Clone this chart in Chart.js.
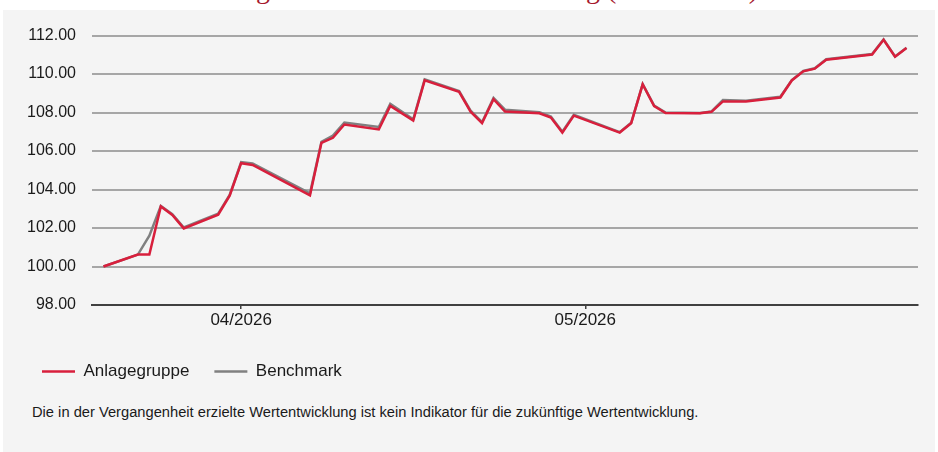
<!DOCTYPE html>
<html>
<head>
<meta charset="utf-8">
<script src="https://cdn.jsdelivr.net/npm/chart.js@4.4.1/dist/chart.umd.min.js"></script>
<style>
    html, body { margin: 0; padding: 0; background: #fff; }
    body { width: 938px; height: 452px; position: relative; overflow: hidden; font-family: "Liberation Sans", Arial, sans-serif; }
    .head { position: absolute; left: 0; top: 0; width: 938px; height: 10px; overflow: hidden; }
    .head span { position: absolute; left: 175px; top: -25px; font: 28px/28px "Liberation Serif", serif; color: #a6192e; white-space: nowrap; }
    .panel { position: absolute; left: 3px; top: 10px; width: 932px; height: 442px; background: #f4f4f4; }
    .chartBox { position: absolute; left: 0; top: 0; width: 932px; height: 390px; }
    .note { position: absolute; left: 29px; top: 394px; font-size: 14.7px; line-height: 16px; color: #1a1a1a; white-space: nowrap; }
</style>
</head>
<body>
<div class="head"><span>Bisherige indexierte Wertentwicklung (Basis = 100)</span></div>
<div class="panel">
    <div class="chartBox"><canvas id="perfChart"></canvas></div>
    <div class="note">Die in der Vergangenheit erzielte Wertentwicklung ist kein Indikator für die zukünftige Wertentwicklung.</div>
</div>
<script>
    /* =========================
       DATA
    ========================= */
    const dates = [
        "2026-03-20", "2026-03-23", "2026-03-24", "2026-03-25", "2026-03-26", "2026-03-27",
        "2026-03-30", "2026-03-31", "2026-04-01", "2026-04-02", "2026-04-07", "2026-04-08",
        "2026-04-09", "2026-04-10", "2026-04-13", "2026-04-14", "2026-04-16", "2026-04-17",
        "2026-04-20", "2026-04-21", "2026-04-22", "2026-04-23", "2026-04-24", "2026-04-27",
        "2026-04-28", "2026-04-29", "2026-04-30", "2026-05-04", "2026-05-05", "2026-05-06",
        "2026-05-07", "2026-05-08", "2026-05-11", "2026-05-12", "2026-05-13", "2026-05-15",
        "2026-05-18", "2026-05-19", "2026-05-20", "2026-05-21", "2026-05-22", "2026-05-26",
        "2026-05-27", "2026-05-28", "2026-05-29"
    ];

    const anlagegruppe = [
        100.00, 100.62, 100.62, 103.12, 102.68, 101.98,
        102.69, 103.68, 105.37, 105.28, 103.70, 106.43,
        106.69, 107.38, 107.12, 108.35, 107.58, 109.67,
        109.08, 108.05, 107.45, 108.70, 108.05, 107.96,
        107.74, 106.96, 107.84, 106.96, 107.45, 109.47,
        108.34, 107.98, 107.96, 108.04, 108.58, 108.57,
        108.78, 109.67, 110.14, 110.28, 110.75, 111.02,
        111.78, 110.90, 111.35
    ];

    const benchmark = [
        100.00, 100.62, 101.60, 103.15, 102.72, 102.03,
        102.75, 103.72, 105.42, 105.35, 103.80, 106.48,
        106.80, 107.48, 107.25, 108.45, 107.65, 109.72,
        109.12, 108.10, 107.50, 108.76, 108.15, 108.02,
        107.80, 107.00, 107.88, 106.98, 107.47, 109.48,
        108.36, 108.00, 107.98, 108.06, 108.65, 108.62,
        108.82, 109.69, 110.16, 110.30, 110.77, 111.04,
        111.80, 110.92, 111.37
    ];

    const monthTicks = ["2026-04-01", "2026-05-01"];
    const xRange = ["2026-03-19", "2026-05-30"];
    const yTicks = [98, 112, 2];

    /* =========================
       HELPERS
    ========================= */
    const day = s => Date.UTC(+s.slice(0, 4), +s.slice(5, 7) - 1, +s.slice(8, 10)) / 86400000;
    const fmtMonth = v => {
        const d = new Date(v * 86400000);
        return String(d.getUTCMonth() + 1).padStart(2, "0") + "/" + d.getUTCFullYear();
    };
    const toPoints = vals => dates.map((d, i) => ({ x: day(d), y: vals[i] }));

    /* =========================
       CHART
    ========================= */
    new Chart(document.getElementById("perfChart"), {
        type: "line",
        data: {
            datasets: [{
                label: "Anlagegruppe",
                data: toPoints(anlagegruppe),
                borderColor: "#d81f3c",
                backgroundColor: "#d81f3c",
                borderWidth: 2.5,
                pointRadius: 0,
                tension: 0
            }, {
                label: "Benchmark",
                data: toPoints(benchmark),
                borderColor: "#808080",
                backgroundColor: "#808080",
                borderWidth: 2.5,
                pointRadius: 0,
                tension: 0
            }]
        },
        options: {
            responsive: true,
            maintainAspectRatio: false,
            animation: false,
            events: [],
            layout: { padding: { left: 14, right: 17, top: 24, bottom: 10 } },
            plugins: {
                tooltip: { enabled: false },
                legend: {
                    position: "bottom",
                    align: "start",
                    labels: {
                        usePointStyle: true,
                        pointStyle: "line",
                        pointStyleWidth: 33,
                        padding: 25,
                        color: "#1a1a1a",
                        font: { family: "'Liberation Sans', Arial, sans-serif", size: 17 }
                    }
                }
            },
            scales: {
                x: {
                    type: "linear",
                    min: day(xRange[0]),
                    max: day(xRange[1]),
                    afterBuildTicks: s => { s.ticks = monthTicks.map(m => ({ value: day(m) })); },
                    afterFit: s => { s.height = 33; },
                    ticks: {
                        callback: v => fmtMonth(v),
                        autoSkip: false,
                        maxRotation: 0,
                        padding: 1,
                        color: "#1a1a1a",
                        font: { family: "'Liberation Sans', Arial, sans-serif", size: 17 }
                    },
                    grid: { drawOnChartArea: false, tickLength: 4, color: "#404040", lineWidth: 1.5 },
                    border: { color: "#404040", width: 2 }
                },
                y: {
                    min: yTicks[0],
                    max: yTicks[1],
                    afterFit: s => { s.width = 75; },
                    ticks: {
                        stepSize: yTicks[2],
                        callback: v => v.toFixed(2),
                        padding: 16,
                        color: "#1a1a1a",
                        font: { family: "'Liberation Sans', Arial, sans-serif", size: 16 }
                    },
                    grid: { color: "#a6a6a6", lineWidth: 2, drawTicks: false },
                    border: { display: false }
                }
            }
        }
    });
</script>
</body>
</html>
